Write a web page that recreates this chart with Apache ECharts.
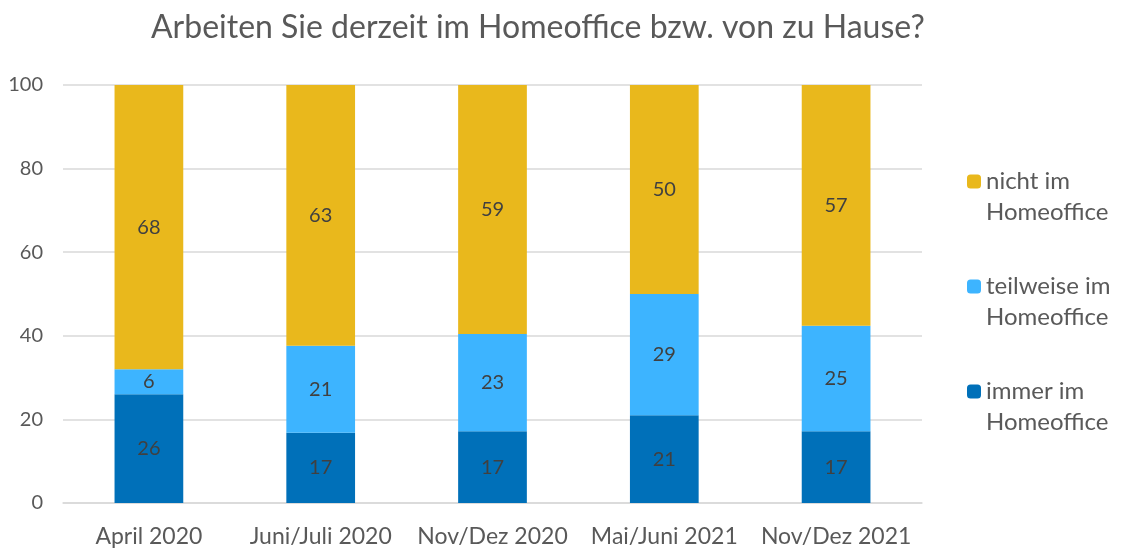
<!DOCTYPE html>
<html>
<head>
<meta charset="utf-8">
<script src="https://cdn.jsdelivr.net/npm/echarts@6/dist/echarts.min.js"></script>
<style>
html,body{margin:0;padding:0;background:#fff;}
#chart{width:1121px;height:550px;}
</style>
</head>
<body>
<div id="chart"></div>
<script>
const titleText = 'Arbeiten Sie derzeit im Homeoffice bzw. von zu Hause?';
const categories = ['April 2020', 'Juni/Juli 2020', 'Nov/Dez 2020', 'Mai/Juni 2021', 'Nov/Dez 2021'];
const immer = [26, 17, 17, 21, 17];
const teilweise = [6, 21, 23, 29, 25];
const nicht = [68, 63, 59, 50, 57];
const seriesNames = ['immer im\nHomeoffice', 'teilweise im\nHomeoffice', 'nicht im\nHomeoffice'];
const colors = ['#0070B9', '#3DB4FF', '#E9B81C'];
const yTicks = { min: 0, max: 100, interval: 20 };

// 100% stacked: shares of each column's total, labels show the raw values
const totals = categories.map((c, i) => immer[i] + teilweise[i] + nicht[i]);
const raw = [immer, teilweise, nicht];

const FONT = 'Lato';
const chart = echarts.init(document.getElementById('chart'));
chart.setOption({
  animation: false,
  textStyle: { fontFamily: FONT },
  title: {
    text: titleText,
    left: 146,
    top: 7,
    textStyle: { fontFamily: FONT, fontSize: 32, fontWeight: 'normal', color: '#595959' }
  },
  grid: { left: 63, right: 199, top: 85, bottom: 47 },
  legend: {
    orient: 'vertical',
    left: 962,
    top: 130,
    itemWidth: 14,
    itemHeight: 14,
    itemGap: 12,
    data: [seriesNames[2], seriesNames[1], seriesNames[0]],
    formatter: name => ' \n' + name,
    textStyle: { fontFamily: FONT, fontSize: 24, color: '#595959', lineHeight: 31 }
  },
  xAxis: {
    type: 'category',
    data: categories,
    axisLine: { lineStyle: { color: '#D9D9D9', width: 1.5 } },
    axisTick: { show: false },
    axisLabel: { color: '#595959', fontSize: 23, margin: 22, interval: 0, fontFamily: FONT }
  },
  yAxis: {
    type: 'value',
    min: yTicks.min, max: yTicks.max, interval: yTicks.interval,
    axisLine: { show: false },
    axisTick: { show: false },
    splitLine: { lineStyle: { color: '#D9D9D9', width: 1.5 } },
    axisLabel: { color: '#595959', fontSize: 20, margin: 20, fontFamily: FONT }
  },
  series: raw.map((vals, s) => ({
    name: seriesNames[s],
    type: 'bar',
    stack: 'total',
    barWidth: '40%',
    itemStyle: { color: colors[s] },
    label: {
      show: true,
      position: 'inside',
      color: '#404040',
      fontSize: 20,
      fontFamily: FONT,
      formatter: p => String(vals[p.dataIndex])
    },
    data: vals.map((v, i) => v / totals[i] * 100)
  }))
});
</script>
</body>
</html>
